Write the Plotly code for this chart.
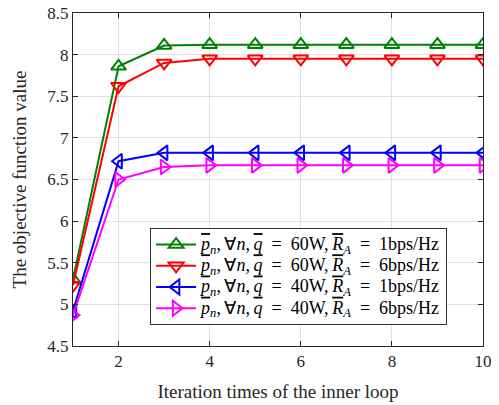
import plotly.graph_objects as go

iterations = [1, 2, 3, 4, 5, 6, 7, 8, 9, 10]
s1 = [5.30, 7.86, 8.11, 8.12, 8.12, 8.12, 8.12, 8.12, 8.12, 8.12]
s2 = [5.23, 7.62, 7.90, 7.95, 7.95, 7.95, 7.95, 7.95, 7.95, 7.95]
s3 = [4.92, 6.72, 6.82, 6.82, 6.82, 6.82, 6.82, 6.82, 6.82, 6.82]
s4 = [4.87, 6.50, 6.65, 6.67, 6.67, 6.67, 6.67, 6.67, 6.67, 6.67]

def lbl(q, r):
    ov = '<span style="text-decoration:overline">%s</span>'
    eq = "\u2002=\u2002"
    body = ("<i>" + ov % "p" + "</i><sub><i>n</i></sub>,\u2009∀<i>n</i>,\u2009" + "<i>" + ov % "q" + "</i>" + eq + q
            + "W,\u2009" + "<i>" + ov % "R" + "</i><sub><i>A</i></sub>" + eq + r + "bps/Hz")
    return '<span style="font-size:18px">' + body + "</span>"

names = [lbl("60", "1"), lbl("60", "6"), lbl("40", "1"), lbl("40", "6")]
colors = ["#008000", "#ff0000", "#0000ff", "#ff00ff"]
symbols = ["triangle-up-open", "triangle-down-open", "triangle-left-open", "triangle-right-open"]
series = [s1, s2, s3, s4]

fig = go.Figure()
for s, n, c, sym in zip(series, names, colors, symbols):
    fig.add_trace(go.Scatter(x=iterations, y=s, name=n, mode="lines+markers",
                             line=dict(color=c, width=2),
                             marker=dict(symbol=sym, size=13, color=c, line=dict(width=2, color=c))))

font = "Liberation Serif, Times New Roman, serif"
fig.update_layout(
    width=483, height=394, autosize=False,
    margin=dict(l=65, r=8, t=5, b=56, autoexpand=False),
    paper_bgcolor="white", plot_bgcolor="white",
    font=dict(family=font, size=17, color="#262626"),
    showlegend=True,
    legend=dict(x=0.188, y=0.063, xanchor="left", yanchor="bottom",
                bgcolor="white", bordercolor="#333333", borderwidth=1,
                font=dict(family=font, size=14, color="#000000"),
                tracegroupgap=0, itemwidth=40),
    xaxis=dict(range=[1, 10], tickvals=[2, 4, 6, 8, 10], showgrid=True, gridcolor="#e0e0e0",
               ticks="inside", ticklen=5, tickcolor="#262626", showline=True, linecolor="#262626",
               linewidth=1, mirror="ticks", zeroline=False, automargin=False,
               ticklabeloverflow="allow",
               title=dict(text="Iteration times of the inner loop", font=dict(size=19), standoff=20)),
    yaxis=dict(range=[4.5, 8.5], tickvals=[4.5, 5, 5.5, 6, 6.5, 7, 7.5, 8, 8.5],
               ticktext=["4.5", "5", "5.5", "6", "6.5", "7", "7.5", "8", "8.5"],
               showgrid=True, gridcolor="#e0e0e0",
               ticks="inside", ticklen=5, tickcolor="#262626", showline=True, linecolor="#262626",
               linewidth=1, mirror="ticks", zeroline=False, automargin=False,
               ticklabeloverflow="allow",
               title=dict(text="The objective function value", font=dict(size=19))),
)
fig.write_html("out.html")
